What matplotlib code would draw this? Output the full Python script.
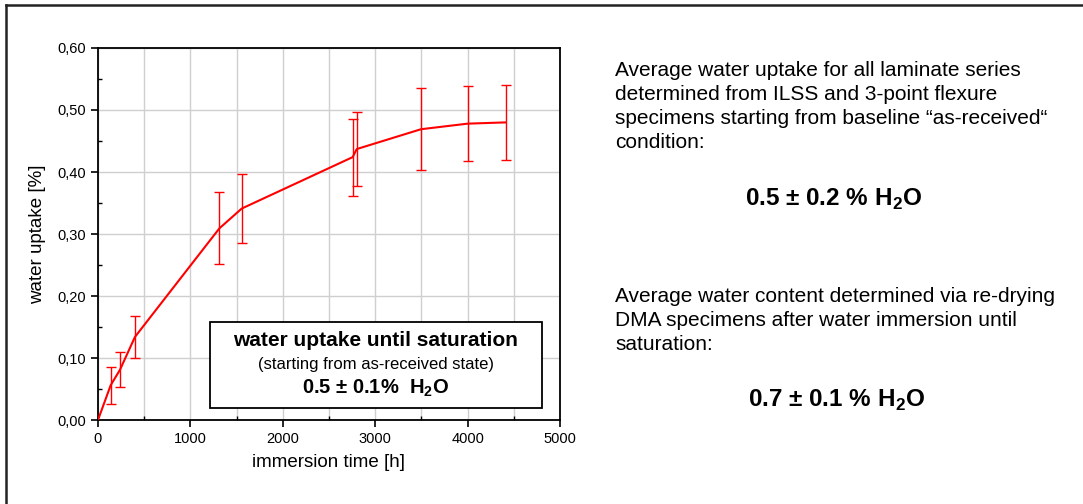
import numpy as np
import matplotlib
matplotlib.use("Agg")
import matplotlib.pyplot as plt
from matplotlib.ticker import MultipleLocator, FuncFormatter
from matplotlib.patches import Rectangle
from matplotlib.lines import Line2D

plt.rcParams['font.family'] = ['Liberation Sans', 'DejaVu Sans']
plt.rcParams['mathtext.fontset'] = 'custom'
plt.rcParams['mathtext.rm'] = 'Liberation Sans'
plt.rcParams['mathtext.bf'] = 'Liberation Sans:bold'

# immersion time [h], water uptake [%], error (+/-)
time_h = [0, 137, 238, 400, 1313, 1555, 2756, 2800, 3496, 4001, 4412]
uptake = [0.0, 0.056, 0.081, 0.134, 0.309, 0.341, 0.424, 0.437, 0.469, 0.478, 0.480]
err = [0.0, 0.030, 0.028, 0.034, 0.058, 0.055, 0.062, 0.060, 0.066, 0.060, 0.060]

box_lines = ["water uptake until saturation",
             "(starting from as-received state)",
             r"0.5 ± 0.1%  H$_\mathbf{2}$O"]

block1 = ["Average water uptake for all laminate series",
          "determined from ILSS and 3-point flexure",
          "specimens starting from baseline \u201cas-received\u201c",
          "condition:"]
block1_result = r"0.5 ± 0.2 % H$_\mathbf{2}$O"
block2 = ["Average water content determined via re-drying",
          "DMA specimens after water immersion until",
          "saturation:"]
block2_result = r"0.7 ± 0.1 % H$_\mathbf{2}$O"

W, H = 1083, 504
fig = plt.figure(figsize=(W / 100, H / 100), dpi=100)
ax = fig.add_axes([98 / W, 1 - 420 / H, 462 / W, 372 / H])

# frame lines of the slide (top and left only)
fig.add_artist(Line2D([6 / W, 1], [1 - 5 / H, 1 - 5 / H], color='#222222', lw=1.8))
fig.add_artist(Line2D([6 / W, 6 / W], [0, 1 - 5 / H], color='#222222', lw=1.8))

ax.plot(time_h, uptake, color='red', lw=1.5, zorder=3)
ax.errorbar(time_h[1:], uptake[1:], yerr=err[1:], fmt='none', ecolor='red',
            elinewidth=1.0, capsize=3.5, capthick=1.0, zorder=3)

ax.set_xlim(0, 5000)
ax.set_ylim(0, 0.6)
ax.xaxis.set_major_locator(MultipleLocator(1000))
ax.xaxis.set_minor_locator(MultipleLocator(500))
ax.yaxis.set_major_locator(MultipleLocator(0.1))
ax.yaxis.set_minor_locator(MultipleLocator(0.05))
ax.yaxis.set_major_formatter(FuncFormatter(lambda v, p: f"{v:.2f}".replace('.', ',')))
ax.grid(True, which='major', color='#cfcfcf', lw=1, zorder=0)
ax.grid(True, which='minor', axis='x', color='#cfcfcf', lw=1, zorder=0)
ax.tick_params(which='major', direction='out', length=5, width=1.2, labelsize=10.5)
ax.tick_params(which='minor', direction='in', length=3, width=1)
for s in ax.spines.values():
    s.set_linewidth(1.3)
ax.set_xlabel("immersion time [h]", fontsize=13.5, labelpad=6)
ax.set_ylabel("water uptake [%]", fontsize=13.5, labelpad=8)

# annotation box inside plot
ax.add_patch(Rectangle((0.2424, 0.0323), 0.961 - 0.2424, 0.2634 - 0.0323,
                       transform=ax.transAxes, facecolor='white', edgecolor='black',
                       lw=1.3, zorder=4))
cx = 0.6017
ax.text(cx, 0.2124, box_lines[0], transform=ax.transAxes, ha='center', va='center',
        fontsize=15, fontweight='bold', zorder=5)
ax.text(cx, 0.148, box_lines[1], transform=ax.transAxes, ha='center', va='center',
        fontsize=12, zorder=5)
ax.text(cx, 0.086, box_lines[2], transform=ax.transAxes, ha='center', va='center',
        fontsize=14.5, fontweight='bold', zorder=5)

# right-hand text blocks
for i, line in enumerate(block1):
    fig.text(615 / W, 1 - (70 + i * 24.3) / H, line, ha='left', va='center', fontsize=15)
fig.text(834 / W, 1 - 199 / H, block1_result, ha='center', va='center',
         fontsize=17.5, fontweight='bold')
for i, line in enumerate(block2):
    fig.text(615 / W, 1 - (297 + i * 23.5) / H, line, ha='left', va='center', fontsize=15)
fig.text(837 / W, 1 - 400 / H, block2_result, ha='center', va='center',
         fontsize=17.5, fontweight='bold')

fig.savefig("out.png", dpi=100)
